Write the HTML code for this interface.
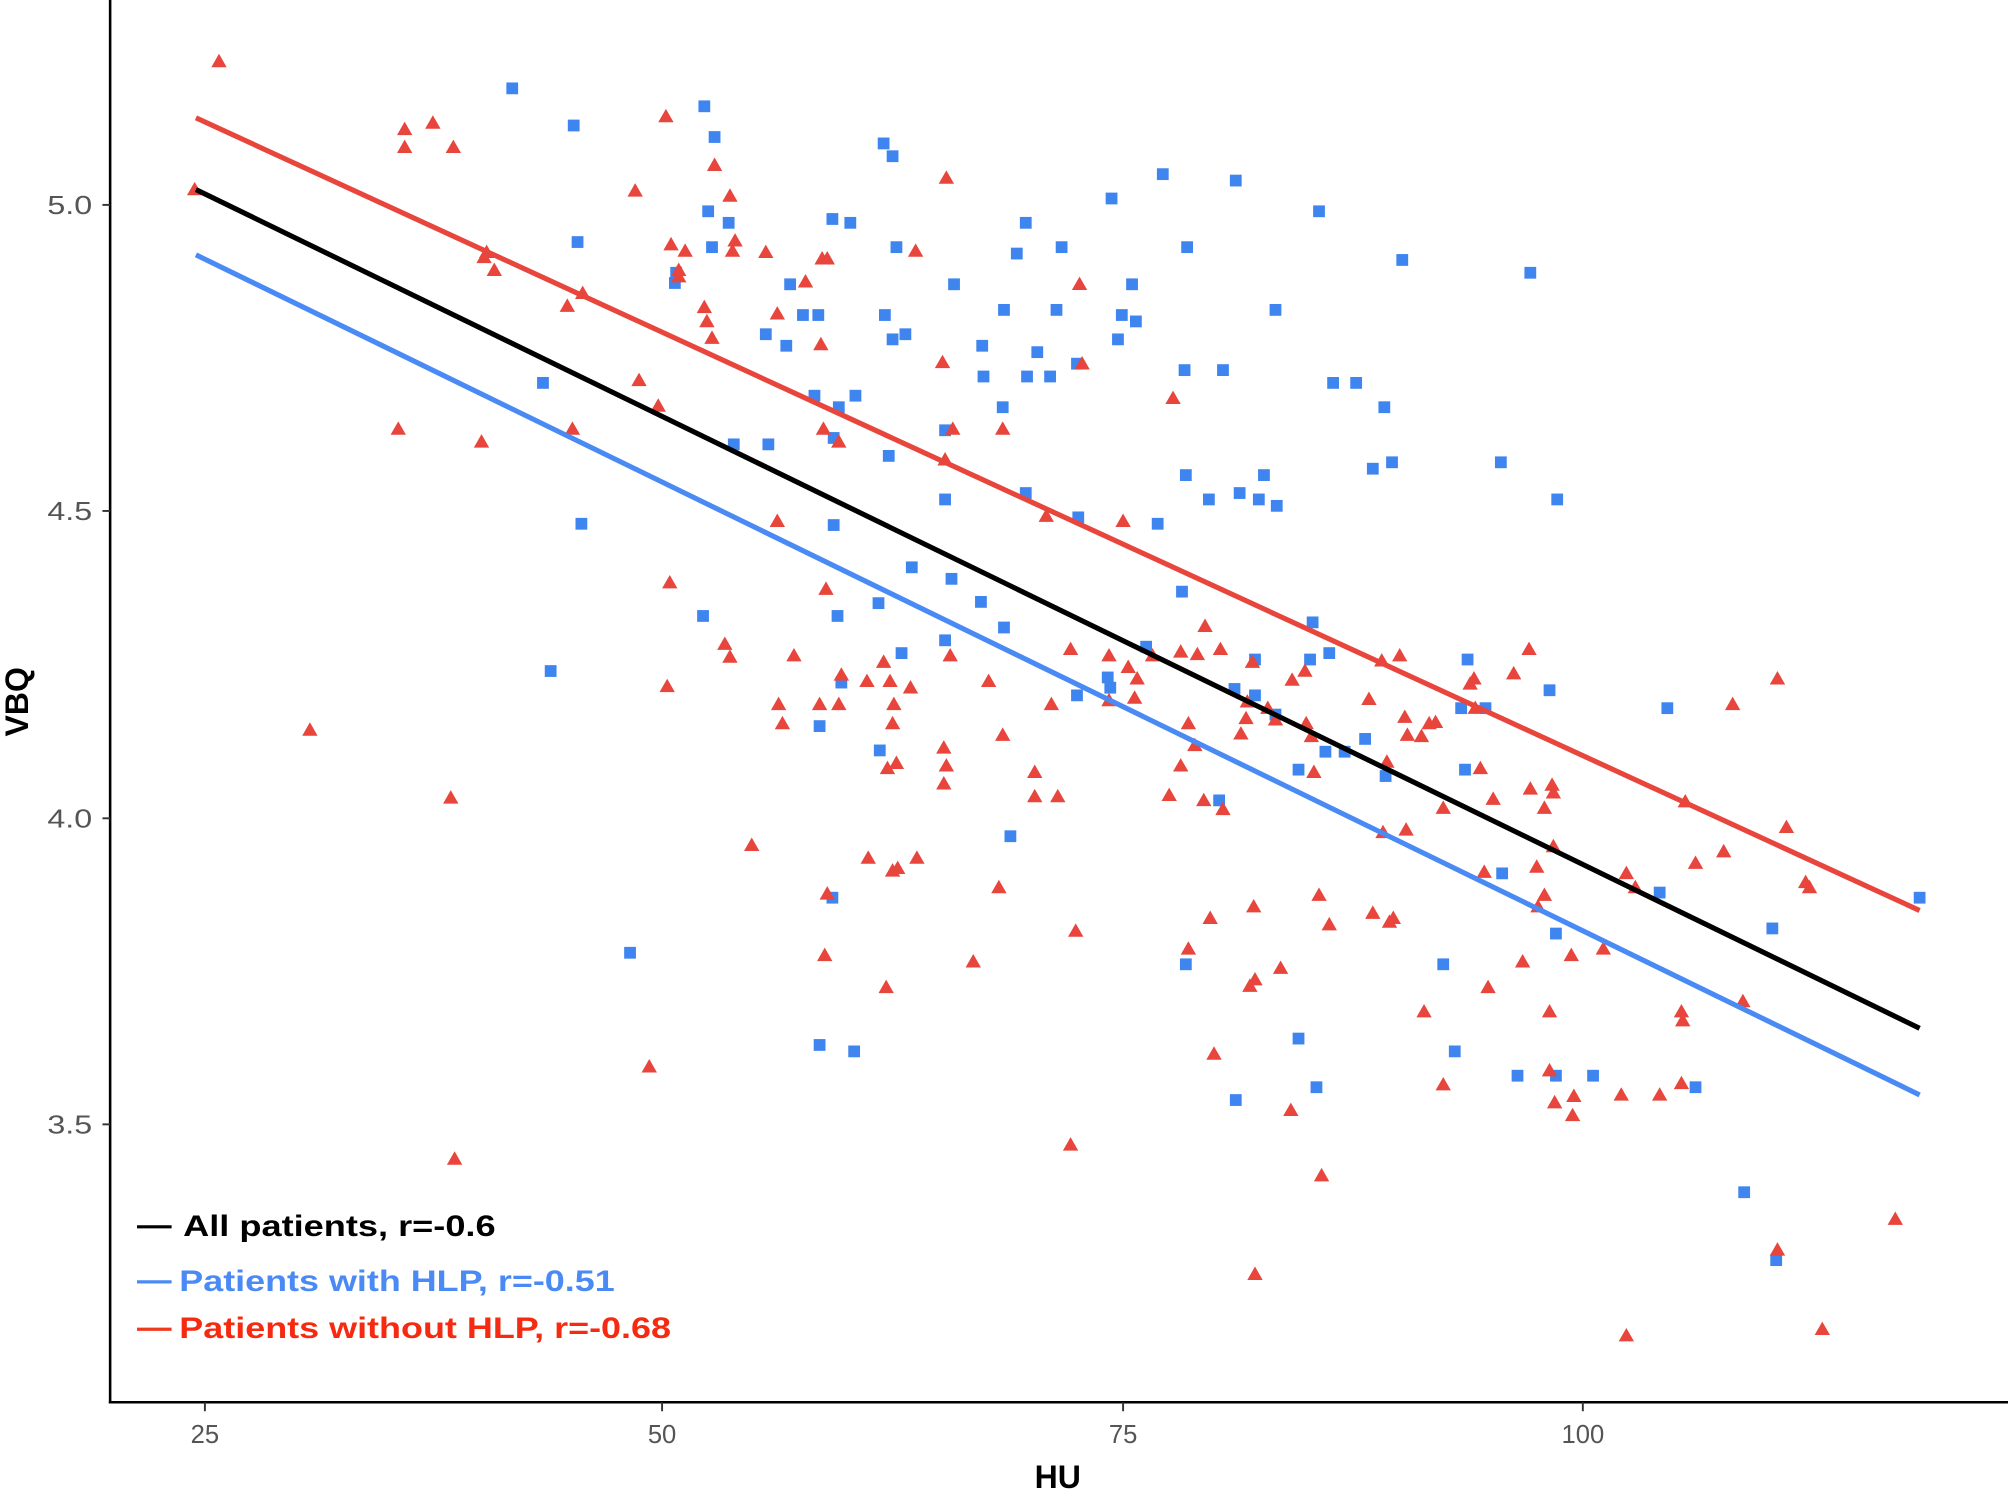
<!DOCTYPE html>
<html><head><meta charset="utf-8"><style>html,body{margin:0;padding:0;background:#fff}svg{display:block}</style></head>
<body>
<svg width="2008" height="1490" viewBox="0 0 2008 1490" xmlns="http://www.w3.org/2000/svg">
<defs>
<path id="t" d="M0,-6 L6,4.5 L-6,4.5Z" fill="#E8453C"/>
<rect id="s" x="-4.6" y="-4.6" width="9.2" height="9.2" fill="#3F85F0"/>
</defs>
<g transform="scale(1.2806)">
<g>
<use href="#s" x="400" y="69"/><use href="#s" x="448" y="98"/><use href="#s" x="550" y="83"/><use href="#s" x="558" y="107"/><use href="#s" x="451" y="189"/><use href="#s" x="553" y="165"/><use href="#s" x="569" y="174"/><use href="#s" x="556" y="193"/><use href="#s" x="528" y="213"/><use href="#s" x="527" y="221"/><use href="#s" x="424" y="299"/><use href="#s" x="454" y="409"/><use href="#s" x="430" y="524"/><use href="#s" x="492" y="744"/><use href="#s" x="549" y="481"/><use href="#s" x="573" y="347"/><use href="#s" x="600" y="347"/><use href="#s" x="598" y="261"/><use href="#s" x="614" y="270"/><use href="#s" x="617" y="222"/><use href="#s" x="627" y="246"/><use href="#s" x="639" y="246"/><use href="#s" x="636" y="309"/><use href="#s" x="650" y="171"/><use href="#s" x="664" y="174"/><use href="#s" x="668" y="309"/><use href="#s" x="655" y="318"/><use href="#s" x="651" y="342"/><use href="#s" x="651" y="410"/><use href="#s" x="654" y="481"/><use href="#s" x="640" y="567"/><use href="#s" x="657" y="533"/><use href="#s" x="650" y="701"/><use href="#s" x="640" y="816"/><use href="#s" x="667" y="821"/><use href="#s" x="690" y="112"/><use href="#s" x="697" y="122"/><use href="#s" x="700" y="193"/><use href="#s" x="691" y="246"/><use href="#s" x="697" y="265"/><use href="#s" x="707" y="261"/><use href="#s" x="694" y="356"/><use href="#s" x="712" y="443"/><use href="#s" x="686" y="471"/><use href="#s" x="704" y="510"/><use href="#s" x="687" y="586"/><use href="#s" x="738" y="336"/><use href="#s" x="745" y="222"/><use href="#s" x="743" y="452"/><use href="#s" x="738" y="390"/><use href="#s" x="738" y="500"/><use href="#s" x="767" y="270"/><use href="#s" x="768" y="294"/><use href="#s" x="784" y="242"/><use href="#s" x="783" y="318"/><use href="#s" x="794" y="198"/><use href="#s" x="801" y="174"/><use href="#s" x="810" y="275"/><use href="#s" x="802" y="294"/><use href="#s" x="820" y="294"/><use href="#s" x="825" y="242"/><use href="#s" x="829" y="193"/><use href="#s" x="841" y="284"/><use href="#s" x="868" y="155"/><use href="#s" x="873" y="265"/><use href="#s" x="876" y="246"/><use href="#s" x="884" y="222"/><use href="#s" x="887" y="251"/><use href="#s" x="904" y="409"/><use href="#s" x="908" y="136"/><use href="#s" x="927" y="193"/><use href="#s" x="925" y="289"/><use href="#s" x="926" y="371"/><use href="#s" x="944" y="390"/><use href="#s" x="955" y="289"/><use href="#s" x="965" y="141"/><use href="#s" x="968" y="385"/><use href="#s" x="983" y="390"/><use href="#s" x="987" y="371"/><use href="#s" x="997" y="395"/><use href="#s" x="996" y="242"/><use href="#s" x="1030" y="165"/><use href="#s" x="1041" y="299"/><use href="#s" x="1059" y="299"/><use href="#s" x="1081" y="318"/><use href="#s" x="1072" y="366"/><use href="#s" x="1087" y="361"/><use href="#s" x="1095" y="203"/><use href="#s" x="1195" y="213"/><use href="#s" x="1172" y="361"/><use href="#s" x="1216" y="390"/><use href="#s" x="766" y="470"/><use href="#s" x="784" y="490"/><use href="#s" x="789" y="653"/><use href="#s" x="801" y="385"/><use href="#s" x="842" y="404"/><use href="#s" x="865" y="529"/><use href="#s" x="841" y="543"/><use href="#s" x="895" y="505"/><use href="#s" x="923" y="462"/><use href="#s" x="964" y="538"/><use href="#s" x="980" y="515"/><use href="#s" x="996" y="558"/><use href="#s" x="1025" y="486"/><use href="#s" x="1038" y="510"/><use href="#s" x="1023" y="515"/><use href="#s" x="1035" y="587"/><use href="#s" x="1014" y="601"/><use href="#s" x="1066" y="577"/><use href="#s" x="1082" y="606"/><use href="#s" x="1146" y="515"/><use href="#s" x="1141" y="553"/><use href="#s" x="1160" y="553"/><use href="#s" x="1144" y="601"/><use href="#s" x="1210" y="539"/><use href="#s" x="1173" y="682"/><use href="#s" x="1127" y="753"/><use href="#s" x="1136" y="821"/><use href="#s" x="1014" y="811"/><use href="#s" x="1028" y="849"/><use href="#s" x="965" y="859"/><use href="#s" x="926" y="753"/><use href="#s" x="1185" y="840"/><use href="#s" x="1215" y="840"/><use href="#s" x="1244" y="840"/><use href="#s" x="1324" y="849"/><use href="#s" x="1302" y="553"/><use href="#s" x="1296" y="697"/><use href="#s" x="1384" y="725"/><use href="#s" x="1362" y="931"/><use href="#s" x="1387" y="984"/><use href="#s" x="1499" y="701"/><use href="#s" x="952" y="625"/><use href="#s" x="980" y="543"/><use href="#s" x="1050" y="587"/><use href="#s" x="867" y="537"/><use href="#s" x="1215" y="729"/>
</g>
<g>
<use href="#t" x="171" y="48"/><use href="#t" x="152" y="148"/><use href="#t" x="316" y="101"/><use href="#t" x="338" y="96"/><use href="#t" x="354" y="115"/><use href="#t" x="316" y="115"/><use href="#t" x="311" y="335"/><use href="#t" x="376" y="345"/><use href="#t" x="380" y="197"/><use href="#t" x="386" y="211"/><use href="#t" x="378" y="201"/><use href="#t" x="242" y="570"/><use href="#t" x="352" y="623"/><use href="#t" x="355" y="905"/><use href="#t" x="443" y="239"/><use href="#t" x="447" y="335"/><use href="#t" x="455" y="229"/><use href="#t" x="496" y="149"/><use href="#t" x="499" y="297"/><use href="#t" x="514" y="317"/><use href="#t" x="520" y="91"/><use href="#t" x="524" y="191"/><use href="#t" x="530" y="216"/><use href="#t" x="535" y="196"/><use href="#t" x="530" y="211"/><use href="#t" x="550" y="240"/><use href="#t" x="552" y="251"/><use href="#t" x="556" y="264"/><use href="#t" x="558" y="129"/><use href="#t" x="570" y="153"/><use href="#t" x="574" y="188"/><use href="#t" x="572" y="196"/><use href="#t" x="598" y="197"/><use href="#t" x="607" y="245"/><use href="#t" x="629" y="220"/><use href="#t" x="642" y="202"/><use href="#t" x="646" y="202"/><use href="#t" x="641" y="269"/><use href="#t" x="643" y="335"/><use href="#t" x="655" y="345"/><use href="#t" x="607" y="407"/><use href="#t" x="566" y="503"/><use href="#t" x="570" y="513"/><use href="#t" x="523" y="455"/><use href="#t" x="521" y="536"/><use href="#t" x="507" y="833"/><use href="#t" x="587" y="660"/><use href="#t" x="608" y="550"/><use href="#t" x="611" y="565"/><use href="#t" x="620" y="512"/><use href="#t" x="640" y="550"/><use href="#t" x="645" y="460"/><use href="#t" x="655" y="550"/><use href="#t" x="657" y="527"/><use href="#t" x="646" y="698"/><use href="#t" x="644" y="746"/><use href="#t" x="677" y="532"/><use href="#t" x="690" y="517"/><use href="#t" x="695" y="532"/><use href="#t" x="698" y="550"/><use href="#t" x="697" y="565"/><use href="#t" x="693" y="600"/><use href="#t" x="700" y="596"/><use href="#t" x="697" y="680"/><use href="#t" x="701" y="678"/><use href="#t" x="711" y="537"/><use href="#t" x="716" y="670"/><use href="#t" x="678" y="670"/><use href="#t" x="692" y="771"/><use href="#t" x="736" y="283"/><use href="#t" x="739" y="139"/><use href="#t" x="744" y="335"/><use href="#t" x="738" y="359"/><use href="#t" x="715" y="196"/><use href="#t" x="737" y="584"/><use href="#t" x="739" y="598"/><use href="#t" x="737" y="612"/><use href="#t" x="742" y="512"/><use href="#t" x="760" y="751"/><use href="#t" x="772" y="532"/><use href="#t" x="783" y="574"/><use href="#t" x="780" y="693"/><use href="#t" x="783" y="335"/><use href="#t" x="808" y="603"/><use href="#t" x="808" y="622"/><use href="#t" x="821" y="550"/><use href="#t" x="817" y="403"/><use href="#t" x="826" y="622"/><use href="#t" x="836" y="507"/><use href="#t" x="843" y="222"/><use href="#t" x="845" y="284"/><use href="#t" x="840" y="727"/><use href="#t" x="836" y="894"/><use href="#t" x="866" y="512"/><use href="#t" x="866" y="547"/><use href="#t" x="877" y="407"/><use href="#t" x="881" y="521"/><use href="#t" x="886" y="545"/><use href="#t" x="888" y="530"/><use href="#t" x="900" y="512"/><use href="#t" x="916" y="311"/><use href="#t" x="922" y="509"/><use href="#t" x="935" y="511"/><use href="#t" x="928" y="565"/><use href="#t" x="941" y="489"/><use href="#t" x="953" y="507"/><use href="#t" x="933" y="582"/><use href="#t" x="922" y="598"/><use href="#t" x="913" y="621"/><use href="#t" x="940" y="625"/><use href="#t" x="955" y="632"/><use href="#t" x="945" y="717"/><use href="#t" x="948" y="823"/><use href="#t" x="928" y="741"/><use href="#t" x="973" y="561"/><use href="#t" x="978" y="517"/><use href="#t" x="974" y="548"/><use href="#t" x="969" y="573"/><use href="#t" x="976" y="770"/><use href="#t" x="980" y="765"/><use href="#t" x="979" y="708"/><use href="#t" x="1000" y="756"/><use href="#t" x="980" y="995"/><use href="#t" x="990" y="553"/><use href="#t" x="996" y="562"/><use href="#t" x="1009" y="531"/><use href="#t" x="1019" y="524"/><use href="#t" x="1020" y="565"/><use href="#t" x="1024" y="575"/><use href="#t" x="1026" y="603"/><use href="#t" x="1030" y="699"/><use href="#t" x="1038" y="722"/><use href="#t" x="1008" y="867"/><use href="#t" x="1032" y="918"/><use href="#t" x="1069" y="546"/><use href="#t" x="1072" y="713"/><use href="#t" x="1085" y="720"/><use href="#t" x="1088" y="717"/><use href="#t" x="1080" y="650"/><use href="#t" x="1083" y="595"/><use href="#t" x="1079" y="516"/><use href="#t" x="1093" y="512"/><use href="#t" x="1097" y="560"/><use href="#t" x="1099" y="574"/><use href="#t" x="1116" y="565"/><use href="#t" x="1121" y="564"/><use href="#t" x="1127" y="631"/><use href="#t" x="1112" y="790"/><use href="#t" x="1127" y="847"/><use href="#t" x="1148" y="534"/><use href="#t" x="1152" y="553"/><use href="#t" x="1159" y="681"/><use href="#t" x="1162" y="771"/><use href="#t" x="1156" y="600"/><use href="#t" x="1166" y="624"/><use href="#t" x="1182" y="526"/><use href="#t" x="1194" y="507"/><use href="#t" x="1195" y="616"/><use href="#t" x="1189" y="751"/><use href="#t" x="1206" y="631"/><use href="#t" x="1212" y="613"/><use href="#t" x="1213" y="619"/><use href="#t" x="1213" y="661"/><use href="#t" x="1200" y="677"/><use href="#t" x="1206" y="699"/><use href="#t" x="1210" y="790"/><use href="#t" x="1210" y="836"/><use href="#t" x="1227" y="746"/><use href="#t" x="1229" y="856"/><use href="#t" x="1228" y="871"/><use href="#t" x="1214" y="861"/><use href="#t" x="1252" y="741"/><use href="#t" x="1266" y="855"/><use href="#t" x="1270" y="682"/><use href="#t" x="1270" y="1043"/><use href="#t" x="1277" y="693"/><use href="#t" x="1296" y="855"/><use href="#t" x="1313" y="790"/><use href="#t" x="1314" y="797"/><use href="#t" x="1313" y="846"/><use href="#t" x="1316" y="626"/><use href="#t" x="1324" y="674"/><use href="#t" x="1346" y="665"/><use href="#t" x="1353" y="550"/><use href="#t" x="1361" y="782"/><use href="#t" x="1388" y="530"/><use href="#t" x="1395" y="646"/><use href="#t" x="1410" y="689"/><use href="#t" x="1413" y="693"/><use href="#t" x="1388" y="976"/><use href="#t" x="1423" y="1038"/><use href="#t" x="1480" y="952"/><use href="#t" x="1151" y="530"/><use href="#t" x="1110" y="575"/><use href="#t" x="1201" y="708"/><use href="#t" x="1098" y="648"/>
</g>
<line x1="153" y1="92" x2="1499" y2="711" stroke="#E8453C" stroke-width="4"/>
<line x1="153" y1="148" x2="1499" y2="803" stroke="#000" stroke-width="4"/>
<line x1="153" y1="199" x2="1499" y2="855" stroke="#4A8AF4" stroke-width="4"/>
<line x1="86" y1="0" x2="86" y2="1096" stroke="#000" stroke-width="2"/>
<line x1="85" y1="1095" x2="1568" y2="1095" stroke="#000" stroke-width="2"/>
<g stroke="#333" stroke-width="1.5">
<line x1="80" y1="160" x2="86" y2="160"/><line x1="80" y1="399" x2="86" y2="399"/><line x1="80" y1="639" x2="86" y2="639"/><line x1="80" y1="878" x2="86" y2="878"/>
<line x1="160" y1="1095" x2="160" y2="1102"/><line x1="517" y1="1095" x2="517" y2="1102"/><line x1="877" y1="1095" x2="877" y2="1102"/><line x1="1236" y1="1095" x2="1236" y2="1102"/>
</g>
<g font-family="Liberation Sans, sans-serif" font-size="20" fill="#555">
<g text-anchor="end" lengthAdjust="spacingAndGlyphs"><text x="72" y="167" textLength="35" lengthAdjust="spacingAndGlyphs">5.0</text><text x="72" y="406" textLength="35" lengthAdjust="spacingAndGlyphs">4.5</text><text x="72" y="646" textLength="35" lengthAdjust="spacingAndGlyphs">4.0</text><text x="72" y="885" textLength="35" lengthAdjust="spacingAndGlyphs">3.5</text></g>
<g text-anchor="middle"><text x="160" y="1127">25</text><text x="517" y="1127">50</text><text x="877" y="1127">75</text><text x="1236" y="1127">100</text></g>
</g>
<text x="826" y="1162" text-anchor="middle" font-family="Liberation Sans, sans-serif" font-weight="bold" font-size="25" fill="#000">HU</text>
<text transform="translate(22,548) rotate(-90)" text-anchor="middle" font-family="Liberation Sans, sans-serif" font-weight="bold" font-size="25" fill="#000">VBQ</text>
<line x1="107" y1="958" x2="134" y2="958" stroke="#000" stroke-width="2.5"/>
<line x1="107" y1="1001" x2="134" y2="1001" stroke="#4A8AF4" stroke-width="2.5"/>
<line x1="107" y1="1038" x2="134" y2="1038" stroke="#F03A20" stroke-width="2.5"/>
<g font-family="Liberation Sans, sans-serif" font-weight="bold" font-size="23">
<text x="143" y="965" fill="#000" textLength="244" lengthAdjust="spacingAndGlyphs">All patients, r=-0.6</text>
<text x="140" y="1008" fill="#4A8AF4" textLength="340" lengthAdjust="spacingAndGlyphs">Patients with HLP, r=-0.51</text>
<text x="140" y="1045" fill="#F62A10" textLength="384" lengthAdjust="spacingAndGlyphs">Patients without HLP, r=-0.68</text>
</g>
</g>
</svg>
</body></html>
